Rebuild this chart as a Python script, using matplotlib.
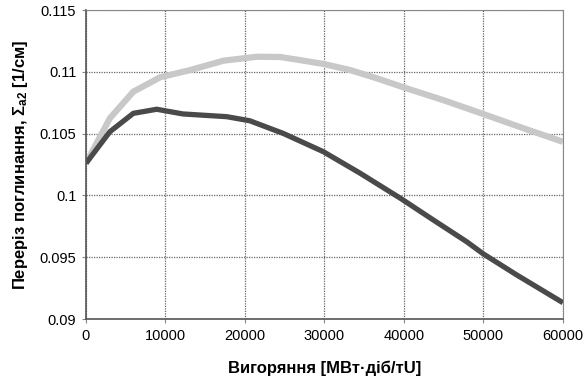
import matplotlib.pyplot as plt
from matplotlib import ticker

plt.rcParams['font.family'] = ['Liberation Sans', 'DejaVu Sans']
plt.rcParams['mathtext.fontset'] = 'custom'
plt.rcParams['mathtext.rm'] = 'Liberation Sans'
plt.rcParams['mathtext.bf'] = 'Liberation Sans:bold'
plt.rcParams['mathtext.it'] = 'Liberation Sans:italic'

# burnup, MW*day/tU
burnup_light = [0, 3000, 5950, 9300, 13100, 17300, 21500, 24400, 26900, 29900,
                33200, 36600, 40100, 44900, 50000, 55400, 60000]
sigma_light = [0.1026, 0.10624, 0.10839, 0.10955, 0.11014, 0.1109, 0.11122, 0.1112,
               0.11095, 0.11063, 0.11015, 0.10947, 0.10871, 0.10772, 0.10658,
               0.10535, 0.10434]

burnup_dark = [0, 3000, 5950, 8900, 12200, 17700, 20600, 24800, 29850, 34500,
               39600, 43700, 47900, 50000, 54200, 60000]
sigma_dark = [0.1026, 0.10515, 0.10664, 0.10697, 0.10659, 0.10637, 0.10604, 0.10502,
              0.10354, 0.10179, 0.09975, 0.09801, 0.09625, 0.09526, 0.09356, 0.09132]

xticks = [0, 10000, 20000, 30000, 40000, 50000, 60000]
yticks = [0.09, 0.095, 0.1, 0.105, 0.11, 0.115]
ytick_labels = ['0.09', '0.095', '0.1', '0.105', '0.11', '0.115']

fig = plt.figure(figsize=(5.87, 3.85), dpi=100)
ax = fig.add_axes([0.1465, 0.1714, 0.8125, 0.8026])

ax.plot(burnup_light, sigma_light, color='#c8c8c8', lw=4.5,
        solid_capstyle='butt', solid_joinstyle='round')
ax.plot(burnup_dark, sigma_dark, color='#4a4a4a', lw=3.8,
        solid_capstyle='butt', solid_joinstyle='round')

ax.set_xlim(0, 60000)
ax.set_ylim(0.09, 0.115)
ax.set_xticks(xticks)
ax.set_yticks(yticks)
ax.set_yticklabels(ytick_labels)
ax.xaxis.set_major_formatter(ticker.FormatStrFormatter('%d'))
ax.grid(True, color='#666666', linestyle=(0, (1, 1)), lw=0.9)
ax.tick_params(labelsize=10.5, length=3, color='#888888', pad=4)

for side in ['left', 'bottom']:
    ax.spines[side].set_color('#555555')
    ax.spines[side].set_linewidth(1.2)
for side in ['top', 'right']:
    ax.spines[side].set_color('#888888')
    ax.spines[side].set_linewidth(0.8)

ax.set_xlabel('Вигоряння [МВт·діб/тU]', fontsize=12, fontweight='bold', labelpad=13)
ax.set_ylabel('Переріз поглинання, Σ$_{\\mathbf{a2}}$ [1/см]', fontsize=12,
              fontweight='bold', labelpad=7)

fig.savefig('out.png', dpi=100)
